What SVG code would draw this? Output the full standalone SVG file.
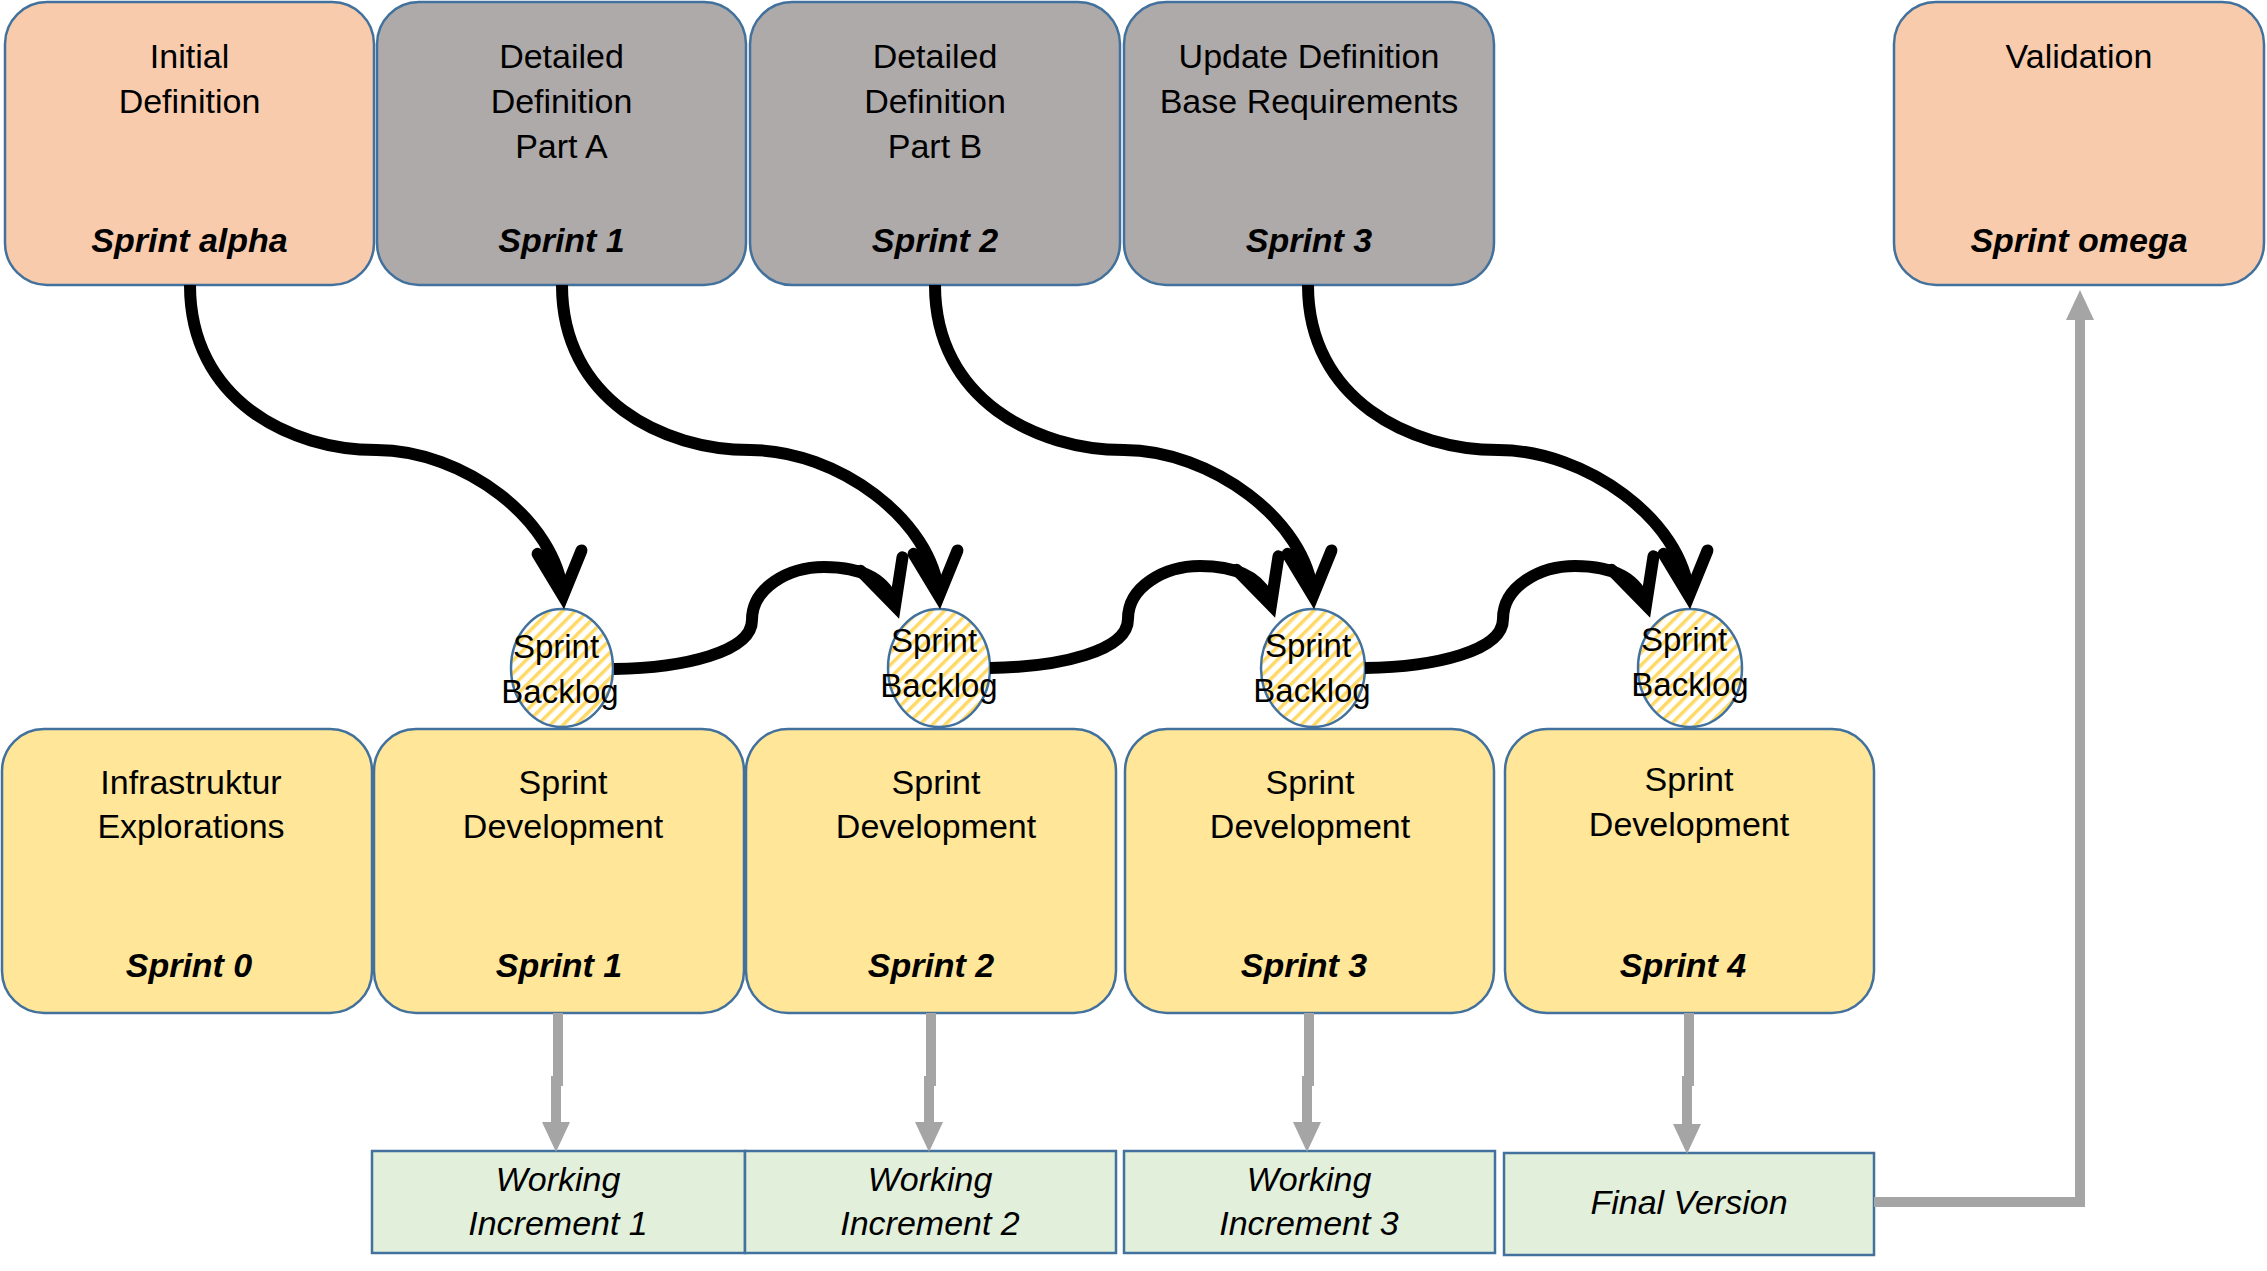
<svg xmlns="http://www.w3.org/2000/svg" width="2267" height="1271" viewBox="0 0 2267 1271">
<style>
.t{font-family:'Liberation Sans',Arial,sans-serif;font-size:34px;fill:#000;text-anchor:middle}
.s{font-size:33px}
.b{font-weight:bold;font-style:italic}
.i{font-style:italic}
.box{stroke:#41719C;stroke-width:2.5}
.peach{fill:#F8CBAD}
.gray{fill:#AEAAAA}
.yellow{fill:#FFE699}
.green{fill:#E2EFDA}
.bl{fill:url(#hatch);stroke:#41719C;stroke-width:2.5}
.flow{fill:none;stroke:#000;stroke-width:12;stroke-linecap:butt;marker-end:url(#openArrow)}
.gline{fill:none;stroke:#A5A5A5;stroke-width:10;marker-end:url(#grayArrow)}
</style>
<defs>
<pattern id="hatch" patternUnits="userSpaceOnUse" width="9" height="9" patternTransform="rotate(45)">
<rect width="9" height="9" fill="#FFFFFF"/>
<rect x="0" y="0" width="3.5" height="9" fill="#FFD966"/>
</pattern>
<marker id="openArrow" markerUnits="userSpaceOnUse" orient="auto" overflow="visible" markerWidth="80" markerHeight="80" refX="0" refY="0">
<path d="M-44,-22 L0,0 L-44,22" fill="none" stroke="#000" stroke-width="12" stroke-linecap="round" stroke-linejoin="miter"/>
</marker>
<marker id="grayArrow" markerUnits="userSpaceOnUse" orient="auto" overflow="visible" markerWidth="40" markerHeight="40" refX="0" refY="0">
<path d="M-2,-14 L28,0 L-2,14 z" fill="#A5A5A5"/>
</marker>
</defs>
<rect width="2267" height="1271" fill="#FFFFFF"/>

<g id="initial-definition">
<rect class="box peach" x="5" y="2" width="369" height="283" rx="42"/>
<text class="t" x="189.5" y="68">Initial</text>
<text class="t" x="189.5" y="113">Definition</text>
<text class="t b" x="189.5" y="252">Sprint alpha</text>
</g>
<g id="detailed-definition-a">
<rect class="box gray" x="377" y="2" width="369" height="283" rx="42"/>
<text class="t" x="561.5" y="68">Detailed</text>
<text class="t" x="561.5" y="113">Definition</text>
<text class="t" x="561.5" y="158">Part A</text>
<text class="t b" x="561.5" y="252">Sprint 1</text>
</g>
<g id="detailed-definition-b">
<rect class="box gray" x="750" y="2" width="370" height="283" rx="42"/>
<text class="t" x="935" y="68">Detailed</text>
<text class="t" x="935" y="113">Definition</text>
<text class="t" x="935" y="158">Part B</text>
<text class="t b" x="935" y="252">Sprint 2</text>
</g>
<g id="update-definition">
<rect class="box gray" x="1124" y="2" width="370" height="283" rx="42"/>
<text class="t" x="1309" y="68">Update Definition</text>
<text class="t" x="1309" y="113">Base Requirements</text>
<text class="t b" x="1309" y="252">Sprint 3</text>
</g>
<g id="validation">
<rect class="box peach" x="1894" y="2" width="370" height="283" rx="42"/>
<text class="t" x="2079" y="68">Validation</text>
<text class="t b" x="2079" y="252">Sprint omega</text>
</g>

<g id="infrastruktur">
<rect class="box yellow" x="2" y="729" width="370" height="284" rx="42"/>
<text class="t" x="191" y="794">Infrastruktur</text>
<text class="t" x="191" y="838">Explorations</text>
<text class="t b" x="189" y="977">Sprint 0</text>
</g>
<g id="sprint-dev-1">
<rect class="box yellow" x="374" y="729" width="370" height="284" rx="42"/>
<text class="t" x="563" y="794">Sprint</text>
<text class="t" x="563" y="838">Development</text>
<text class="t b" x="559" y="977">Sprint 1</text>
</g>
<g id="sprint-dev-2">
<rect class="box yellow" x="746" y="729" width="370" height="284" rx="42"/>
<text class="t" x="936" y="794">Sprint</text>
<text class="t" x="936" y="838">Development</text>
<text class="t b" x="931" y="977">Sprint 2</text>
</g>
<g id="sprint-dev-3">
<rect class="box yellow" x="1125" y="729" width="369" height="284" rx="42"/>
<text class="t" x="1310" y="794">Sprint</text>
<text class="t" x="1310" y="838">Development</text>
<text class="t b" x="1304" y="977">Sprint 3</text>
</g>
<g id="sprint-dev-4">
<rect class="box yellow" x="1505" y="729" width="369" height="284" rx="42"/>
<text class="t" x="1689" y="791">Sprint</text>
<text class="t" x="1689" y="836">Development</text>
<text class="t b" x="1683" y="977">Sprint 4</text>
</g>

<g id="backlog-1">
<ellipse class="bl" cx="562" cy="668" rx="51" ry="59"/>
<text class="t s" x="556" y="658">Sprint</text>
<text class="t s" x="560" y="703">Backlog</text>
</g>
<g id="backlog-2">
<ellipse class="bl" cx="939" cy="668" rx="51" ry="59"/>
<text class="t s" x="934" y="652">Sprint</text>
<text class="t s" x="939" y="697">Backlog</text>
</g>
<g id="backlog-3">
<ellipse class="bl" cx="1313" cy="668" rx="52" ry="59"/>
<text class="t s" x="1308" y="657">Sprint</text>
<text class="t s" x="1312" y="702">Backlog</text>
</g>
<g id="backlog-4">
<ellipse class="bl" cx="1690" cy="668" rx="52" ry="59"/>
<text class="t s" x="1684" y="651">Sprint</text>
<text class="t s" x="1690" y="696">Backlog</text>
</g>

<g id="increment-1">
<rect class="box green" x="372" y="1151" width="373" height="102"/>
<text class="t i" x="558" y="1191">Working</text>
<text class="t i" x="558" y="1235">Increment 1</text>
</g>
<g id="increment-2">
<rect class="box green" x="745" y="1151" width="371" height="102"/>
<text class="t i" x="930" y="1191">Working</text>
<text class="t i" x="930" y="1235">Increment 2</text>
</g>
<g id="increment-3">
<rect class="box green" x="1124" y="1151" width="371" height="102"/>
<text class="t i" x="1309" y="1191">Working</text>
<text class="t i" x="1309" y="1235">Increment 3</text>
</g>
<g id="final-version">
<rect class="box green" x="1504" y="1153" width="370" height="102"/>
<text class="t i" x="1689" y="1214">Final Version</text>
</g>

<g id="connectors">
<path class="flow" d="M190,285 C190,400 290,450 376.5,450 C463,450 557,520 563,596"/>
<path class="flow" d="M562,285 C562,400 663,450 750.5,450 C837,450 933,520 939,596"/>
<path class="flow" d="M935,285 C935,400 1037,450 1124,450 C1210,450 1307,520 1313,596"/>
<path class="flow" d="M1308,285 C1308,400 1411,450 1498.5,450 C1585,450 1683,520 1689,596"/>
<path class="flow" d="M614,669 C684,668 752,652 752,620 C752,588 788,567 824,567 C860,567 886,578 895,606"/>
<path class="flow" d="M990,668 C1060,667 1128,651 1128,619 C1128,587 1164,566 1200,566 C1236,566 1262,577 1271,605"/>
<path class="flow" d="M1365,668 C1435,667 1503,651 1503,619 C1503,587 1539,566 1575,566 C1611,566 1637,577 1646,605"/>
<path class="gline" d="M558,1013 V1081 H556 V1124"/>
<path class="gline" d="M931,1013 V1081 H929 V1124"/>
<path class="gline" d="M1309,1013 V1081 H1307 V1124"/>
<path class="gline" d="M1689,1013 V1081 H1687 V1126"/>
<path class="gline" stroke-width="9" d="M1874,1202 H2080 V318"/>
</g>
</svg>
